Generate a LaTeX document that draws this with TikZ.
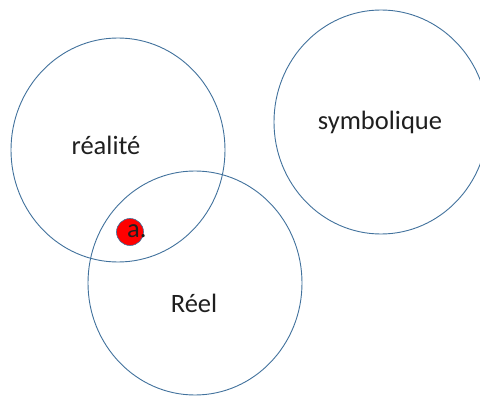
\documentclass[tikz,border=0pt]{standalone}
\usepackage{fontspec}
\setmainfont{Carlito}
\usepackage{xcolor}
\usepackage{tikz}
\usetikzlibrary{shapes.geometric, positioning}
\definecolor{ringblue}{HTML}{41719C}
\tikzstyle{ring} = [draw=ringblue, ellipse, line width=0.9pt, minimum width=214pt, minimum height=224pt, inner sep=0pt]
\tikzstyle{word} = [font=\fontsize{26.5}{30}\selectfont, text=black!88, inner sep=0pt]
\tikzstyle{dot} = [draw=ringblue, circle, fill=red, line width=0.6pt, minimum size=27pt, inner sep=0pt]

\begin{document}
\begin{tikzpicture}[x=1pt, y=-1pt]
    \useasboundingbox (0,0) rectangle (480,398);
    \node (realite) [ring] at (118,150) {};
    \node (symb) [ring] at (381,122) {};
    \node (reel) [ring] at (195,283) {};

    \node (realitetxt) [word] at (106,145) {réalité};
    \node (symbtxt) [word] at (380,122) {symbolique};
    \node (reeltxt) [word] at (194,303) {Réel};

    \node (objet) [dot] at (130,232) {};
    \node (objettxt) [word, anchor=west] at (127,231) {a.};
\end{tikzpicture}
\end{document}
